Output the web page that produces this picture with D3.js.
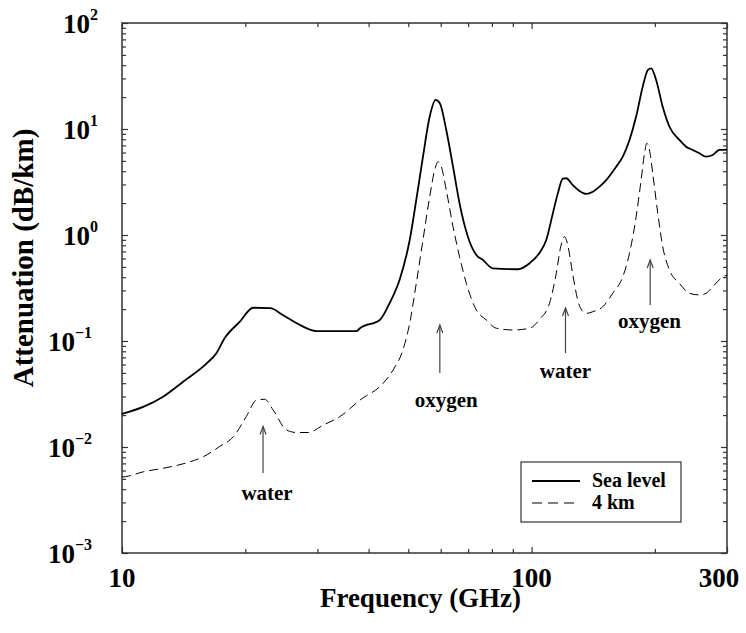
<!DOCTYPE html>
<html>
<head>
<meta charset="utf-8">
<script src="https://d3js.org/d3.v7.min.js"></script>
<style>
body { margin: 0; background: #fff; }
svg text { font-family: "Liberation Serif", "Times New Roman", serif; font-weight: bold; fill: #000; }
.axis path { display: none; }
.axis line { stroke: #333; stroke-width: 1.2px; }
</style>
</head>
<body>
<script>

// sea level curve (GHz, dB/km)
var freqSea = [10, 11.3, 12.6, 14.1, 16.1, 17.0, 17.8, 19.4, 20.9, 23.0, 24.7, 26.7, 29.9, 37.4, 38.1,
  42.6, 45.0, 47.6, 50.4, 52.3, 54.3, 56.4, 58.3, 59.7, 61.9, 64.3, 66.7, 69.9, 73.3, 76.1, 80.4,
  92.6, 98.9, 104.6, 108.6, 112.7, 115.9, 119.2, 121.5, 126.1, 130.9, 135.9, 141.1, 146.5, 152.1,
  160.9, 167.0, 173.4, 180.0, 186.8, 192.2, 195.9, 201.4, 209.0, 217.1, 229.6, 238.4, 247.4,
  256.9, 266.7, 276.8, 287.3, 300];
var attSea = [0.0205, 0.024, 0.0298, 0.0413, 0.0616, 0.0766, 0.106, 0.152, 0.206, 0.204, 0.176, 0.147, 0.124, 0.124, 0.132,
  0.158, 0.227, 0.376, 0.897, 2.14, 5.48, 13.1, 18.8, 17.5, 9.79, 4.41, 1.99, 0.964, 0.648, 0.581, 0.485,
  0.475, 0.541, 0.68, 0.897, 1.60, 2.47, 3.40, 3.43, 2.96, 2.60, 2.44, 2.56, 2.86, 3.30,
  4.41, 5.48, 7.88, 13.1, 25.1, 36.0, 37.4, 29.0, 16.2, 10.5, 7.88, 6.81, 6.34,
  5.90, 5.48, 5.69, 6.34, 6.4];

// 4 km curve
var freq4km = [10, 10.2, 11.3, 12.6, 14.4, 15.8, 17.3, 18.7, 20.1, 21.3, 22.3, 23.4, 25.2, 26.7, 28.5, 31.0, 34.0, 38.1,
  43.4, 45.9, 48.5, 50.4, 52.3, 54.3, 56.4, 58.0, 59.1, 60.2, 61.9, 64.3, 66.7, 69.3, 73.3, 77.5, 82.0, 90.0,
  98.9, 104.6, 110.6, 114.9, 117.8, 120.4, 122.6, 126.1, 130.9, 135.9, 141.1, 149.3, 157.8, 167.0, 173.4,
  180.0, 185.1, 188.7, 191.1, 194.0, 197.6, 203.3, 209.0, 217.1, 229.6, 242.9, 256.9, 266.7, 276.8, 290.2, 300];
var att4km = [0.0052, 0.00525, 0.00585, 0.0063, 0.0071, 0.0081, 0.0101, 0.0125, 0.0193, 0.0277, 0.0282, 0.0223, 0.0145, 0.0137, 0.0137, 0.0161, 0.0193, 0.0277,
  0.0399, 0.0532, 0.0822, 0.147, 0.350, 0.897, 2.30, 4.10, 4.91, 4.41, 2.66, 1.20, 0.624, 0.350, 0.196, 0.158, 0.132, 0.127,
  0.132, 0.160, 0.227, 0.435, 0.776, 0.964, 0.80, 0.42, 0.215, 0.182, 0.189, 0.211, 0.282, 0.404, 0.672,
  1.49, 3.30, 5.90, 7.33, 6.34, 3.82, 1.60, 0.776, 0.468, 0.350, 0.282, 0.272, 0.282, 0.325, 0.391, 0.42];

var xTickLabels = [10, 100, 300];
var xMinorTicks = [20, 30, 40, 50, 60, 70, 80, 90, 200];
var yTickExponents = [2, 1, 0, -1, -2, -3];

var legendLabels = ["Sea level", "4 km"];

// absorption line annotations
var annoText = ["water", "oxygen", "water", "oxygen"];
var annoFreq = [22.1, 59.7, 121, 194.8];
var annoTip = [0.0156, 0.1416, 0.205, 0.581];
var annoTail = [0.00569, 0.0499, 0.077, 0.219];
var annoLabelFreq = [22.6, 61.9, 121, 194];
var annoLabelAtt = [0.00316, 0.024, 0.0448, 0.133];

var width = 746, height = 633;

var svg = d3.select("body").append("svg")
    .attr("width", width)
    .attr("height", height);

var x = d3.scaleLog().domain([10, 300]).range([122, 727]);
var y = d3.scaleLog().domain([1e-3, 1e2]).range([553, 23]);

var yMajor = yTickExponents.map(function(e) { return Math.pow(10, e); });
var yMinor = [];
yTickExponents.slice(1).forEach(function(e) {
  for (var k = 2; k <= 9; k++) yMinor.push(k * Math.pow(10, e));
});

var x0 = x.range()[0], x1 = x.range()[1], yb = y.range()[0], yt = y.range()[1];

// inward ticks on all four sides
function ticks(axis, vals, size, tr) {
  svg.append("g").attr("class", "axis").attr("transform", tr)
    .call(axis.tickValues(vals).tickSize(-size).tickFormat(""));
}
ticks(d3.axisBottom(x), xTickLabels, 6, "translate(0," + yb + ")");
ticks(d3.axisBottom(x), xMinorTicks, 4, "translate(0," + yb + ")");
ticks(d3.axisTop(x), xTickLabels, 6, "translate(0," + yt + ")");
ticks(d3.axisTop(x), xMinorTicks, 4, "translate(0," + yt + ")");
ticks(d3.axisLeft(y), yMajor, 6, "translate(" + x0 + ",0)");
ticks(d3.axisLeft(y), yMinor, 4, "translate(" + x0 + ",0)");
ticks(d3.axisRight(y), yMajor, 6, "translate(" + x1 + ",0)");
ticks(d3.axisRight(y), yMinor, 4, "translate(" + x1 + ",0)");

svg.append("rect")
    .attr("x", x0).attr("y", yt)
    .attr("width", x1 - x0).attr("height", yb - yt)
    .attr("fill", "none").attr("stroke", "#333").attr("stroke-width", 1.5);

// tick labels
svg.selectAll(".xlab").data(xTickLabels).enter().append("text")
    .attr("class", "xlab")
    .attr("x", function(d) { return x(d) + (d === 300 ? -8 : 0); })
    .attr("y", yb + 34)
    .attr("text-anchor", "middle")
    .style("font-size", "27px")
    .text(function(d) { return d; });

var ylab = svg.selectAll(".ylab").data(yTickExponents).enter().append("text")
    .attr("class", "ylab")
    .attr("x", function(d) { return d >= 0 ? 98 : 92; })
    .attr("y", function(d) { return y(Math.pow(10, d)) + 10; })
    .attr("text-anchor", "end")
    .style("font-size", "27px");
ylab.append("tspan").text("10");
ylab.append("tspan")
    .attr("dy", -13)
    .style("font-size", "16px")
    .text(function(d) { return d < 0 ? "\u2212" + (-d) : d; });

// axis titles
svg.append("text")
    .attr("x", (x0 + x1) / 2 - 4)
    .attr("y", 607)
    .attr("text-anchor", "middle")
    .style("font-size", "27px")
    .text("Frequency (GHz)");

svg.append("text")
    .attr("transform", "translate(33,258) rotate(-90)")
    .attr("text-anchor", "middle")
    .style("font-size", "29px")
    .text("Attenuation (dB/km)");

// curves
var line = d3.line()
    .curve(d3.curveMonotoneX)
    .x(function(d) { return x(d[0]); })
    .y(function(d) { return y(d[1]); });

svg.append("path")
    .datum(d3.zip(freqSea, attSea))
    .attr("d", line)
    .attr("fill", "none")
    .attr("stroke", "#000")
    .attr("stroke-width", 1.8);

svg.append("path")
    .datum(d3.zip(freq4km, att4km))
    .attr("d", line)
    .attr("fill", "none")
    .attr("stroke", "#000")
    .attr("stroke-width", 1)
    .attr("stroke-dasharray", "9,5");

// annotations
annoText.forEach(function(t, i) {
  var px = x(annoFreq[i]), tip = y(annoTip[i]);
  svg.append("line")
      .attr("x1", px).attr("x2", px)
      .attr("y1", y(annoTail[i])).attr("y2", tip)
      .attr("stroke", "#444").attr("stroke-width", 1.2);
  svg.append("path")
      .attr("d", "M" + (px - 3) + "," + (tip + 8) + "L" + px + "," + tip + "L" + (px + 3) + "," + (tip + 8))
      .attr("fill", "none").attr("stroke", "#444").attr("stroke-width", 1.2);
  svg.append("text")
      .attr("x", x(annoLabelFreq[i]))
      .attr("y", y(annoLabelAtt[i]))
      .attr("text-anchor", "middle")
      .style("font-size", "21px")
      .text(t);
});

// legend
var lg = svg.append("g");
lg.append("rect")
    .attr("x", 521).attr("y", 462)
    .attr("width", 160).attr("height", 60)
    .attr("fill", "#fff").attr("stroke", "#333").attr("stroke-width", 1.2);
legendLabels.forEach(function(t, i) {
  var ly = 481 + i * 22;
  lg.append("line")
      .attr("x1", 532).attr("x2", 580)
      .attr("y1", ly).attr("y2", ly)
      .attr("stroke", "#000")
      .attr("stroke-width", i === 0 ? 1.8 : 1)
      .attr("stroke-dasharray", i === 0 ? null : "10,6");
  lg.append("text")
      .attr("x", 592).attr("y", ly + 6)
      .style("font-size", "20px")
      .text(t);
});

</script>
</body>
</html>
